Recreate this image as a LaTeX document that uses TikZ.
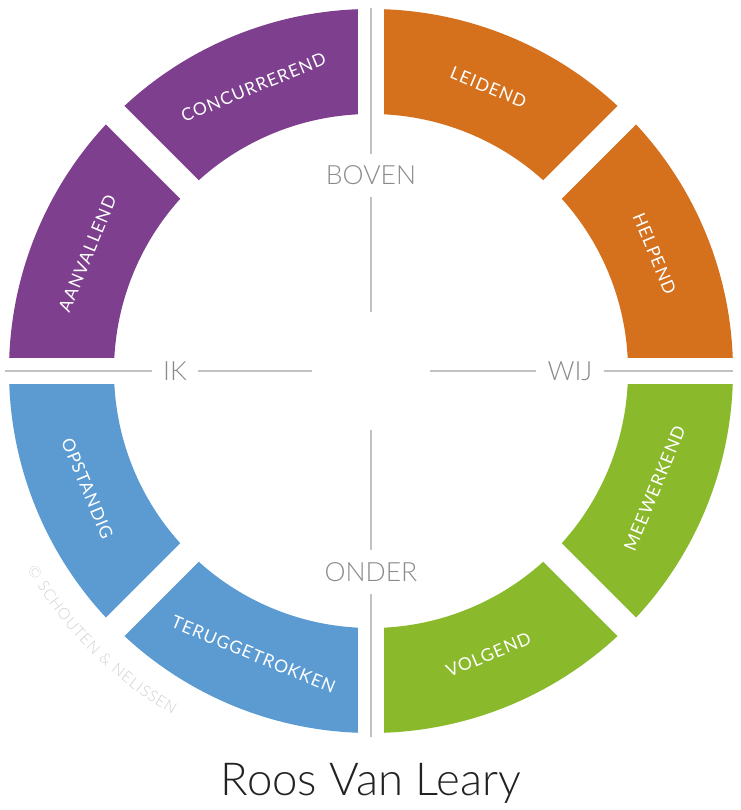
\documentclass[tikz,border=0pt]{standalone}
\usepackage{fontspec}
\IfFontExistsTF{Lato Light}{\setmainfont{Lato Light}}{\setmainfont{Lato}}
\newfontfamily\zonefont{Lato}[LetterSpace=6]
\usepackage{xcolor}
\usetikzlibrary{calc, decorations.text}

\definecolor{roospurple}{HTML}{7E3F8E}
\definecolor{roosorange}{HTML}{D5701D}
\definecolor{roosgreen}{HTML}{8BB92C}
\definecolor{roosblue}{HTML}{5B9BD2}
\definecolor{axisgray}{HTML}{C2C2C2}
\definecolor{axistext}{HTML}{8A8A8A}
\definecolor{marktext}{HTML}{D0D0D0}
\definecolor{titletext}{HTML}{222222}

\newcommand{\Rout}{362pt}
\newcommand{\Rin}{257pt}
\newcommand{\Rmid}{307pt}
% name, mid angle, colour, text, rotation
\newcommand{\rooszone}[5]{
    \fill[#3] ({#2-22.5}:\Rout) arc[start angle={#2-22.5}, end angle={#2+22.5}, radius=\Rout]
    -- ({#2+22.5}:\Rin) arc[start angle={#2+22.5}, end angle={#2-22.5}, radius=\Rin] -- cycle;
    \node[zonetext, rotate=#5] (#1) at (#2:\Rmid) {#4};
}

\begin{document}
\begin{tikzpicture}[x=1pt, y=1pt,
    zonetext/.style={text=white, font=\zonefont\fontsize{17.5}{17.5}\selectfont},
    axislabel/.style={text=axistext, font=\fontsize{26.5}{26.5}\selectfont, inner xsep=11pt, inner ysep=12pt},
    axisline/.style={axisgray, line width=1.5pt},
    gapline/.style={white, line width=26pt}]
\useasboundingbox (-371,-439) rectangle (369,371);
\rooszone{leidend}{67.5}{roosorange}{LEIDEND}{-22.5}
\rooszone{concurrerend}{112.5}{roospurple}{CONCURREREND}{22.5}
\rooszone{aanvallend}{157.5}{roospurple}{AANVALLEND}{67.5}
\rooszone{opstandig}{202.5}{roosblue}{OPSTANDIG}{-67.5}
\rooszone{teruggetrokken}{247.5}{roosblue}{TERUGGETROKKEN}{-22.5}
\rooszone{volgend}{292.5}{roosgreen}{VOLGEND}{22.5}
\rooszone{meewerkend}{337.5}{roosgreen}{MEEWERKEND}{67.5}
\rooszone{helpend}{22.5}{roosorange}{HELPEND}{-67.5}
% gaps between the zones
\foreach \a in {0,45,...,315}
    \draw[gapline] (0,0) -- (\a:370pt);
% axes
\node[axislabel] (boven) at (90:195.5pt) {BOVEN};
\node[axislabel] (onder) at (270:201pt) {ONDER};
\node[axislabel] (ik) at (180:196pt) {IK};
\node[axislabel] (wij) at (0:199pt) {WIJ};
\coordinate (top) at (90:363pt);
\coordinate (bottom) at (270:366pt);
\coordinate (left) at (180:366pt);
\coordinate (right) at (0:362pt);
\coordinate (ctop) at (90:59pt);
\coordinate (cbottom) at (270:59pt);
\coordinate (cleft) at (180:59pt);
\coordinate (cright) at (0:59pt);
\draw[axisline] (boven) -- (top);
\draw[axisline] (boven) -- (ctop);
\draw[axisline] (onder) -- (bottom);
\draw[axisline] (onder) -- (cbottom);
\draw[axisline] (ik) -- (left);
\draw[axisline] (ik) -- (cleft);
\draw[axisline] (wij) -- (right);
\draw[axisline] (wij) -- (cright);
% watermark
\path[decorate, decoration={text along path, text align=fit to path,
    text={|\fontsize{15.5}{15.5}\selectfont\color{marktext}|© SCHOUTEN {\&} NELISSEN}}]
    (210:397pt) arc[start angle=210, end angle=240, radius=397pt];
\node[text=titletext, font=\fontsize{45.5}{45.5}\selectfont, anchor=base] (title) at (0,-424) {Roos Van Leary};
\end{tikzpicture}
\end{document}
